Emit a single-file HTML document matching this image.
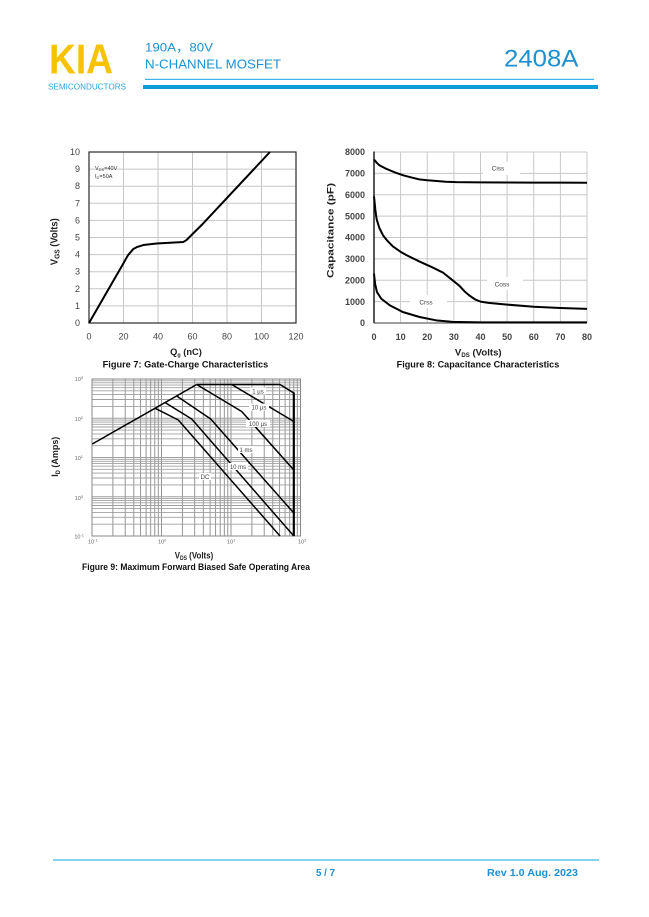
<!DOCTYPE html>
<html><head><meta charset="utf-8">
<style>
html,body{margin:0;padding:0;background:#fff;width:649px;height:917px;overflow:hidden}
svg{display:block}
text{font-family:"Liberation Sans","Noto Sans CJK SC",sans-serif}
</style></head>
<body>
<svg width="649" height="917" viewBox="0 0 649 917" xmlns="http://www.w3.org/2000/svg">
<rect width="649" height="917" fill="#fff"/>

<!-- HEADER -->
<text x="49" y="73.3" font-size="42" font-weight="bold" fill="#F7C300" textLength="64" lengthAdjust="spacingAndGlyphs">KIA</text>
<text x="48" y="89.6" font-size="8" fill="#2BA6DE" textLength="78" lengthAdjust="spacingAndGlyphs">SEMICONDUCTORS</text>
<text x="145" y="51.7" font-size="12" fill="#1E90D0" textLength="68" lengthAdjust="spacingAndGlyphs">190A，80V</text>
<text x="145" y="68.4" font-size="12.5" fill="#1E90D0" textLength="136" lengthAdjust="spacingAndGlyphs">N-CHANNEL MOSFET</text>
<text x="504" y="66.7" font-size="24.3" fill="#1E90D0" textLength="74.5" lengthAdjust="spacingAndGlyphs">2408A</text>
<rect x="145" y="78.8" width="449" height="1.2" fill="#3BB3E6"/>
<rect x="143" y="85" width="455" height="4" fill="#0C9AD8"/>

<!-- FIGURE 7 -->
<path d="M123.5 152V323M158 152V323M192.5 152V323M227 152V323M261.5 152V323M89 305.9H296M89 288.8H296M89 271.7H296M89 254.6H296M89 237.5H296M89 220.4H296M89 203.3H296M89 186.2H296M89 169.1H296" stroke="#c6c6c6" stroke-width="1" fill="none"/>
<rect x="89" y="152" width="207" height="171" fill="none" stroke="#2a2a2a" stroke-width="1.2"/>
<g font-size="9" fill="#444" text-anchor="end">
<text x="80" y="326">0</text><text x="80" y="308.9">1</text><text x="80" y="291.8">2</text><text x="80" y="274.7">3</text><text x="80" y="257.6">4</text><text x="80" y="240.5">5</text><text x="80" y="223.4">6</text><text x="80" y="206.3">7</text><text x="80" y="189.2">8</text><text x="80" y="172.1">9</text><text x="80" y="155">10</text>
</g>
<g font-size="9" fill="#444" text-anchor="middle">
<text x="89" y="339.5">0</text><text x="123.5" y="339.5">20</text><text x="158" y="339.5">40</text><text x="192.5" y="339.5">60</text><text x="227" y="339.5">80</text><text x="261.5" y="339.5">100</text><text x="296" y="339.5">120</text>
</g>
<text x="95" y="170" font-size="5.5" fill="#333">V<tspan font-size="4" dy="1">DS</tspan><tspan dy="-1">=40V</tspan></text>
<text x="95" y="178" font-size="5.5" fill="#333">I<tspan font-size="4" dy="1">D</tspan><tspan dy="-1">=50A</tspan></text>
<g transform="translate(89 323) scale(1.725 -17.1)">
<polyline vector-effect="non-scaling-stroke" points="0,0 19.9,3.48 22.5,3.95 25.7,4.33 28,4.45 31.5,4.56 39.2,4.65 54.7,4.74 56.5,4.85 58.5,5.05 65.3,5.73 104.9,10" fill="none" stroke="#000" stroke-width="2" stroke-linejoin="round"/>
</g>
<text transform="translate(57.5 241.7) rotate(-90)" font-size="10" font-weight="bold" fill="#222" text-anchor="middle" textLength="47" lengthAdjust="spacingAndGlyphs">V<tspan font-size="7" dy="2">GS</tspan><tspan dy="-2"> (Volts)</tspan></text>
<text x="186" y="355" font-size="9.5" font-weight="bold" fill="#222" text-anchor="middle" textLength="31.7" lengthAdjust="spacingAndGlyphs">Q<tspan font-size="5.5" dy="1.5">g</tspan><tspan dy="-1.5"> (nC)</tspan></text>
<text x="102.7" y="367.5" font-size="9" font-weight="bold" fill="#111" textLength="165.6" lengthAdjust="spacingAndGlyphs">Figure 7: Gate-Charge Characteristics</text>

<!-- FIGURE 8 -->
<path d="M400.6 152V323M427.25 152V323M453.9 152V323M480.5 152V323M507.1 152V323M533.75 152V323M560.4 152V323M587 152V323M374 301.6H587M374 280.25H587M374 258.9H587M374 237.5H587M374 216.1H587M374 194.75H587M374 173.4H587M374 152H587" stroke="#c8c8c8" stroke-width="1" fill="none"/>
<path d="M374 323H587" stroke="#666" stroke-width="1.2"/>
<path d="M374 151.5V323" stroke="#111" stroke-width="1.4"/>
<g font-size="9" font-weight="bold" fill="#444" text-anchor="end">
<text x="365" y="326.2">0</text><text x="365" y="304.8">1000</text><text x="365" y="283.4">2000</text><text x="365" y="262.1">3000</text><text x="365" y="240.7">4000</text><text x="365" y="219.3">5000</text><text x="365" y="197.9">6000</text><text x="365" y="176.6">7000</text><text x="365" y="155.2">8000</text>
</g>
<g font-size="9" font-weight="bold" fill="#444" text-anchor="middle">
<text x="374" y="340">0</text><text x="400.6" y="340">10</text><text x="427.25" y="340">20</text><text x="453.9" y="340">30</text><text x="480.5" y="340">40</text><text x="507.1" y="340">50</text><text x="533.75" y="340">60</text><text x="560.4" y="340">70</text><text x="587" y="340">80</text>
</g>
<rect x="483" y="162" width="37" height="13" fill="#fff"/>
<rect x="487" y="277" width="36" height="13" fill="#fff"/>
<rect x="410" y="295" width="37" height="13" fill="#fff"/>
<text x="498" y="170.5" font-size="6.5" fill="#444" text-anchor="middle">Ciss</text>
<text x="502" y="286.5" font-size="6.5" fill="#444" text-anchor="middle">Coss</text>
<text x="426" y="304.5" font-size="6.5" fill="#444" text-anchor="middle">Crss</text>
<g transform="translate(374 323) scale(2.6625 -0.021375)" fill="none" stroke="#000" stroke-width="2" stroke-linejoin="round">
<polyline vector-effect="non-scaling-stroke" points="0,7650 1,7500 2,7380 4,7250 6,7140 8,7040 11,6910 14,6810 17,6720 20,6680 23,6650 27,6610 31,6590 40,6580 50,6575 60,6570 70,6565 80,6560"/>
<polyline vector-effect="non-scaling-stroke" points="0,5930 0.5,5300 1,4850 2,4450 3.4,4100 5,3850 7.1,3580 10,3330 12.1,3180 17,2880 22,2600 26,2350 30,1950 32,1750 34,1480 36,1270 38,1100 40,1000 43,940 50,860 60,760 70,700 80,660"/>
<polyline vector-effect="non-scaling-stroke" points="0,2310 0.4,1840 1.1,1450 2.7,1140 5.9,830 10.8,515 17.1,280 23.3,125 29.5,50 40,30 80,30"/>
</g>
<text transform="translate(333.5 230.5) rotate(-90)" font-size="9.5" font-weight="bold" fill="#222" text-anchor="middle" textLength="95" lengthAdjust="spacingAndGlyphs">Capacitance (pF)</text>
<text x="478.3" y="355.5" font-size="9.5" font-weight="bold" fill="#222" text-anchor="middle" textLength="46.7" lengthAdjust="spacingAndGlyphs">V<tspan font-size="6" dy="1.5">DS</tspan><tspan dy="-1.5"> (Volts)</tspan></text>
<text x="396.7" y="367.5" font-size="9" font-weight="bold" fill="#111" textLength="162.6" lengthAdjust="spacingAndGlyphs">Figure 8: Capacitance Characteristics</text>

<!-- FIGURE 9 -->
<path d="M112.9 379V536M125.2 379V536M133.8 379V536M140.6 379V536M146.1 379V536M150.7 379V536M154.8 379V536M158.3 379V536M161.5 379V536M182.4 379V536M194.7 379V536M203.3 379V536M210.1 379V536M215.6 379V536M220.2 379V536M224.3 379V536M227.8 379V536M231 379V536M251.9 379V536M264.2 379V536M272.8 379V536M279.6 379V536M285.1 379V536M289.7 379V536M293.8 379V536M297.3 379V536" stroke="#8a8a8a" stroke-width="0.9" fill="none"/>
<path d="M92 524.2H300.5M92 517.3H300.5M92 512.4H300.5M92 508.6H300.5M92 505.5H300.5M92 502.8H300.5M92 500.6H300.5M92 498.6H300.5M92 496.75H300.5M92 484.9H300.5M92 478H300.5M92 473.1H300.5M92 469.3H300.5M92 466.2H300.5M92 463.6H300.5M92 461.3H300.5M92 459.3H300.5M92 457.5H300.5M92 445.7H300.5M92 438.8H300.5M92 433.9H300.5M92 430.1H300.5M92 427H300.5M92 424.3H300.5M92 422.1H300.5M92 420.1H300.5M92 418.25H300.5M92 406.4H300.5M92 399.5H300.5M92 394.6H300.5M92 390.8H300.5M92 387.7H300.5M92 385.1H300.5M92 382.8H300.5M92 380.8H300.5" stroke="#a0a0a0" stroke-width="0.9" fill="none"/>
<rect x="92" y="379" width="208.5" height="157" fill="none" stroke="#888" stroke-width="1"/>
<g fill="none" stroke="#000" stroke-width="1.5" stroke-linejoin="round">
<path d="M92.3 444L196.7 384.5"/>
<path d="M196.7 384.5H280L293.8 393"/>
<path d="M293.8 392.5V536" stroke-width="2.2"/>
<path d="M231.7 384.5L293.8 421.5"/>
<path d="M196.7 384.5L241.7 411.5L293.8 470"/>
<path d="M176.7 396L210.7 419L293.8 513"/>
<path d="M165 402.5L191.7 419L293.8 536"/>
<path d="M155 408.2L178.3 420L280 536"/>
</g>
<g font-size="6" fill="#444" text-anchor="middle">
<rect x="250" y="387.5" width="16" height="7" fill="#fff"/><text x="258" y="393.5">1 µs</text>
<rect x="249" y="403.5" width="20" height="7" fill="#fff"/><text x="259" y="409.5">10 µs</text>
<rect x="246" y="420" width="24" height="7" fill="#fff"/><text x="258" y="426">100 µs</text>
<rect x="238" y="446" width="16" height="7" fill="#fff"/><text x="246" y="452">1 ms</text>
<rect x="228" y="463" width="20" height="7" fill="#fff"/><text x="238" y="469">10 ms</text>
<rect x="199" y="473" width="12" height="7" fill="#fff"/><text x="205" y="479">DC</text>
</g>
<g font-size="5.5" fill="#666" text-anchor="end">
<text x="83" y="381">10<tspan font-size="4" dy="-2">3</tspan></text>
<text x="83" y="421">10<tspan font-size="4" dy="-2">2</tspan></text>
<text x="83" y="460">10<tspan font-size="4" dy="-2">1</tspan></text>
<text x="83" y="500">10<tspan font-size="4" dy="-2">0</tspan></text>
<text x="84" y="538.5">10<tspan font-size="4" dy="-2">-1</tspan></text>
</g>
<g font-size="5.5" fill="#666">
<text x="88" y="543.5">10<tspan font-size="4" dy="-2">-1</tspan></text>
<text x="158" y="543.5">10<tspan font-size="4" dy="-2">0</tspan></text>
<text x="227" y="543.5">10<tspan font-size="4" dy="-2">1</tspan></text>
<text x="298" y="543.5">10<tspan font-size="4" dy="-2">2</tspan></text>
</g>
<text transform="translate(58 456.7) rotate(-90)" font-size="9.5" font-weight="bold" fill="#222" text-anchor="middle" textLength="40" lengthAdjust="spacingAndGlyphs">I<tspan font-size="6" dy="2">D</tspan><tspan dy="-2"> (Amps)</tspan></text>
<text x="194" y="558.5" font-size="9.5" font-weight="bold" fill="#222" text-anchor="middle" textLength="38.5" lengthAdjust="spacingAndGlyphs">V<tspan font-size="6" dy="1.5">DS</tspan><tspan dy="-1.5"> (Volts)</tspan></text>
<text x="82" y="570" font-size="9" font-weight="bold" fill="#111" textLength="228" lengthAdjust="spacingAndGlyphs">Figure 9: Maximum Forward Biased Safe Operating Area</text>

<!-- FOOTER -->
<rect x="53" y="859.4" width="546" height="1.2" fill="#33B5E5"/>
<text x="316" y="876" font-size="10.5" font-weight="bold" fill="#1E8FD0" textLength="19" lengthAdjust="spacingAndGlyphs">5 / 7</text>
<text x="487" y="876" font-size="10.5" font-weight="bold" fill="#1E8FD0" textLength="91" lengthAdjust="spacingAndGlyphs">Rev 1.0   Aug. 2023</text>
</svg>
</body></html>
